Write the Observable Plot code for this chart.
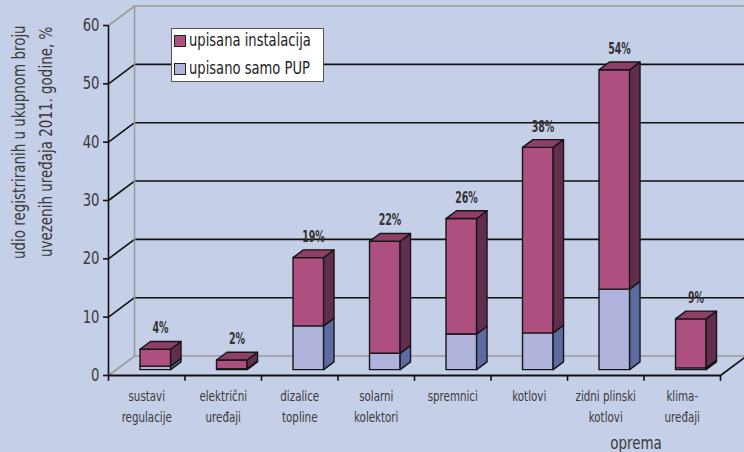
<!DOCTYPE html>
<html>
<head>
<meta charset="utf-8">
<script src="https://cdn.jsdelivr.net/npm/d3@7"></script>
<script src="https://cdn.jsdelivr.net/npm/@observablehq/plot@0.6"></script>
<style>
  html, body { margin: 0; padding: 0; background: #c5cfe7; }
  #wrap { position: relative; width: 744px; height: 452px; overflow: hidden; background: #c5cfe7;
          font-family: "Liberation Sans Narrow", "DejaVu Sans Condensed", "Arial Narrow", sans-serif; font-stretch: condensed; }
  #wrap svg { position: absolute; left: 0; top: 0; }
  .ytitle { position: absolute; left: 0; top: 0; white-space: nowrap; font-size: 17px; color: #3a3a3a;
            transform-origin: 0 0; }
  #xtitle { position: absolute; left: 636px; top: 432px; font-size: 18px; color: #3a3a3a; white-space: nowrap;
            transform: translateX(-50%) scaleX(0.83); }
  #legend { position: absolute; left: 171px; top: 28px; width: 153px; height: 54px; background: #fff;
            border: 1px solid #555; box-sizing: border-box; }
  .li { position: absolute; left: 2px; height: 22px; line-height: 22px; font-size: 18px; color: #222; white-space: nowrap; }
  .sw { display: inline-block; width: 10px; height: 10px; border: 1.5px solid #222; vertical-align: -1px; }
  .lt { display: inline-block; transform: scaleX(0.81); transform-origin: 0 50%; margin-left: 3px; }
</style>
</head>
<body>
<div id="wrap"></div>
<script>
// ---- data ----
const categories = ["sustavi\nregulacije", "električni\nuređaji", "dizalice\ntopline", "solarni\nkolektori",
                    "spremnici", "kotlovi", "zidni plinski\nkotlovi", "klima-\nuređaji"];
const pup = [0.6, 0.15, 7.5, 2.8, 6.1, 6.3, 13.8, 0.3];          // upisano samo PUP
const instalacija = [2.9, 1.5, 11.7, 19.2, 19.8, 31.8, 37.6, 8.4]; // upisana instalacija
const valueLabels = ["4%", "2%", "19%", "22%", "26%", "38%", "54%", "9%"];
const yTicks = [0, 10, 20, 30, 40, 50, 60];
const seriesNames = ["upisana instalacija", "upisano samo PUP"];
const yTitle = ["udio registriranih u ukupnom broju", "uvezenih uređaja 2011. godine, %"];
const xTitle = "oprema";

// ---- colours ----
const C = {
  instFront: "#ad4f7f", instSide: "#622e4d", instTop: "#8d3f66",
  pupFront: "#b0b3db", pupSide: "#5d6ba3"
};

// ---- 3D projection in data units ----
const n = categories.length;
const DX = 0.34;            // x-units of full depth
const DY = 3.34;            // y-units of full depth
const P = (u, v, d) => ({x: u + d * DX, y: v + d * DY});
const A = 0.31, B = 0.71, D0 = 0.3, D1 = 0.7;

const faces = {instFront: [], instSide: [], instTop: [], pupFront: [], pupSide: []};
function poly(kind, id, pts) { pts.forEach(p => faces[kind].push({id, ...P(...p)})); }
for (let i = 0; i < n; i++) {
  const a = i + A, b = i + B;
  const v1 = pup[i], t = pup[i] + instalacija[i];
  poly("pupFront", i, [[a,0,D0],[b,0,D0],[b,v1,D0],[a,v1,D0]]);
  poly("pupSide", i, [[b,0,D0],[b,0,D1],[b,v1,D1],[b,v1,D0]]);
  poly("instFront", i, [[a,v1,D0],[b,v1,D0],[b,t,D0],[a,t,D0]]);
  poly("instSide", i, [[b,v1,D0],[b,v1,D1],[b,t,D1],[b,t,D0]]);
  poly("instTop", i, [[a,t,D0],[b,t,D0],[b,t,D1],[a,t,D1]]);
}

// grid lines (left wall diagonal + back wall horizontal)
const grid = [];
yTicks.forEach(v => {
  const edge = (v === yTicks[0] || v === yTicks[yTicks.length - 1]);
  [P(0, v, 0), P(0, v, 1), P(n, v, 1)].forEach(p => grid.push({id: v, edge, ...p}));
});
const backEdge = [P(0, 0, 1), P(0, 60, 1)];
const floorEdge = [P(n, 0, 0), P(n, 0, 1)];

const totals = pup.map((p, i) => p + instalacija[i]);

const faceMark = (kind) => Plot.line(faces[kind], {
  x: "x", y: "y", z: "id", fill: C[kind], stroke: "#161616", strokeWidth: 1.4,
  curve: "linear-closed", strokeLinejoin: "round"
});

const chart = Plot.plot({
  width: 744, height: 452,
  marginLeft: 108, marginRight: 24, marginTop: 25, marginBottom: 77,
  x: {domain: [0, n], axis: null},
  y: {domain: [0, 60], axis: null},
  style: {background: "transparent", overflow: "visible",
          fontFamily: '"Liberation Sans Narrow", "DejaVu Sans Condensed", "Arial Narrow", sans-serif'},
  marks: [
    Plot.line(grid.filter(d => !d.edge), {x: "x", y: "y", z: "id", stroke: "#111", strokeWidth: 1.6}),
    Plot.line(grid.filter(d => d.edge), {x: "x", y: "y", z: "id", stroke: "#9a9a9a", strokeWidth: 1.6}),
    Plot.line(backEdge, {x: "x", y: "y", stroke: "#9a9a9a", strokeWidth: 1.6}),
    Plot.line(floorEdge, {x: "x", y: "y", stroke: "#111", strokeWidth: 1.6}),
    faceMark("pupFront"), faceMark("pupSide"),
    faceMark("instFront"), faceMark("instSide"), faceMark("instTop"),
    // front axes
    Plot.ruleX([0], {y1: 0, y2: 60, stroke: "#111", strokeWidth: 1.6}),
    Plot.ruleY([0], {x1: 0, x2: n, stroke: "#111", strokeWidth: 1.8}),
    Plot.ruleY(yTicks, {x1: -0.065, x2: 0, stroke: "#111", strokeWidth: 1.6}),
    Plot.ruleX(d3.range(n + 1), {y1: 0, y2: -1.0, stroke: "#111", strokeWidth: 1.6}),
    Plot.text(yTicks, {x: 0, y: d => d, dx: -9, textAnchor: "end", fontSize: 17.5, fill: "#3a3a3a"}),
    Plot.text(categories, {x: (d, i) => i + 0.5, y: 0, dy: 11, lineAnchor: "top", lineHeight: 1.45,
                           fontSize: 14.5, fill: "#3a3a3a", text: d => d}),
    Plot.text(valueLabels, {x: (d, i) => i + (A + B) / 2 + 0.5 * DX, y: (d, i) => totals[i] + D1 * DY,
                            dy: -13, fontSize: 15.5, fontWeight: "bold", fill: "#333", text: d => d})
  ]
});

const wrap = document.getElementById("wrap");
wrap.appendChild(chart);

// condense SVG text horizontally (reference uses a condensed face):
// wrap each text in a group and scale it about its own anchor point
const textScales = [0.84, 0.79, 0.68];
const NS = "http://www.w3.org/2000/svg";
chart.querySelectorAll('g[aria-label="text"]').forEach((grp, k) => {
  const s = textScales[k] ?? 0.85;
  Array.from(grp.querySelectorAll("text")).forEach(t => {
    const g = document.createElementNS(NS, "g");
    t.parentNode.insertBefore(g, t);
    g.appendChild(t);
    const bb = g.getBBox();
    const anchor = getComputedStyle(t).textAnchor;
    const ax = anchor === "end" ? bb.x + bb.width : anchor === "start" ? bb.x : bb.x + bb.width / 2;
    g.setAttribute("transform", `translate(${ax},0) scale(${s},1) translate(${-ax},0)`);
  });
});

// y title (two rotated lines)
yTitle.forEach((t, k) => {
  const el = document.createElement("div");
  el.className = "ytitle";
  el.textContent = t;
  wrap.appendChild(el);
  const w = el.offsetWidth * 0.88, h = el.offsetHeight;
  const cx = 19 + k * 27, cy = 142;
  el.style.left = (cx - h / 2) + "px";
  el.style.top = (cy + w / 2) + "px";
  el.style.transform = "rotate(-90deg) scaleX(0.88)";
});

const xt = document.createElement("div");
xt.id = "xtitle"; xt.textContent = xTitle;
wrap.appendChild(xt);

// legend
const lg = document.createElement("div");
lg.id = "legend";
[[seriesNames[0], C.instFront], [seriesNames[1], C.pupFront]].forEach(([name, col], k) => {
  const li = document.createElement("div");
  li.className = "li";
  li.style.top = (0 + k * 28) + "px";
  li.innerHTML = `<span class="sw" style="background:${col}"></span><span class="lt"></span>`;
  li.querySelector(".lt").textContent = name;
  lg.appendChild(li);
});
wrap.appendChild(lg);
</script>
</body>
</html>
